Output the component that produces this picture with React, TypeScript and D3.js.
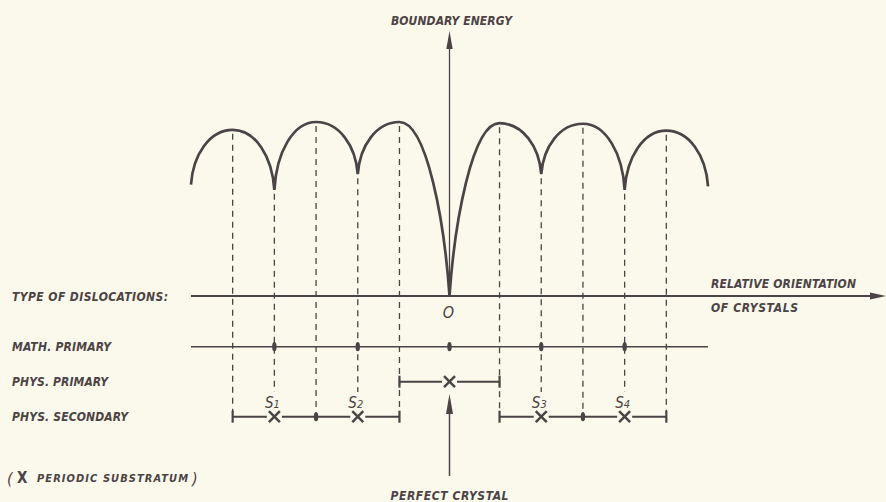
import React from "react";
import * as d3 from "d3";

// ---- data ----
// orientation positions of curve key points (arbitrary units, 0 = perfect crystal)
const curvePositions = [-6.2, -5.2, -4.2, -3.2, -2.2, -1.2, 0, 1.2, 2.2, 3.2, 4.2, 5.2, 6.2];
// boundary energy at those points (relative units)
const curveEnergy = [0.64, 0.955, 0.61, 1.0, 0.7, 1.0, 0, 0.993, 0.7, 0.99, 0.61, 0.95, 0.63];
const curveKind = ["end", "peak", "cusp", "peak", "cusp", "peak", "cusp", "peak", "cusp", "peak", "cusp", "peak", "end"];

const rowLabels = ["TYPE OF DISLOCATIONS:", "MATH. PRIMARY", "PHYS. PRIMARY", "PHYS. SECONDARY"];
const mathPrimaryDots = [-4.2, -2.2, 0, 2.2, 4.2];
const physPrimarySegments = [[-1.2, 1.2]];
const physPrimaryCrosses = [0];
const physSecondarySegments = [[-5.2, -1.2], [1.2, 5.2]];
const physSecondaryCrosses = [-4.2, -2.2, 2.2, 4.2];
const physSecondaryDots = [-3.2, 3.2];
const secondaryLabels = ["1", "2", "3", "4"];
const secondaryLabelPos = [-4.2, -2.2, 2.2, 4.2];

const W = 886;
const H = 502;
const INK = "#4b4345";
const BG = "#fbf9ec";
const FONT = "'DejaVu Sans Condensed', 'DejaVu Sans', sans-serif";

export default function App() {
  const x = d3.scaleLinear().domain([0, 1]).range([449.5, 491.2]);
  const y = d3.scaleLinear().domain([0, 1]).range([296, 122]);

  const rowY = [296, 346.7, 381.7, 416.7];
  const labelY = 402;

  // energy curve: bezier halves between cusp/end and peak
  const p = d3.path();
  for (let i = 0; i < curvePositions.length - 1; i++) {
    const a = i, b = i + 1;
    const peakIdx = curveKind[a] === "peak" ? a : b;
    const lowIdx = peakIdx === a ? b : a;
    const cx = x(curvePositions[lowIdx]), cy = y(curveEnergy[lowIdx]);
    const px = x(curvePositions[peakIdx]), py = y(curveEnergy[peakIdx]);
    const deep = curveEnergy[lowIdx] < 0.3;
    const ka = deep ? 0.1 : 0.05;
    const kb = deep ? 0.42 : 0.55;
    const kc = 0.55;
    const dx = px - cx, dy = cy - py;
    const c1 = [cx + ka * dx, cy - kb * dy];
    const c2 = [px - kc * dx, py];
    if (lowIdx === a) {
      if (i === 0) p.moveTo(cx, cy);
      p.bezierCurveTo(c1[0], c1[1], c2[0], c2[1], px, py);
    } else {
      if (i === 0) p.moveTo(px, py);
      p.bezierCurveTo(c2[0], c2[1], c1[0], c1[1], cx, cy);
    }
  }

  const xLeft = x(curvePositions[0]);
  const xRight = x(curvePositions[curvePositions.length - 1]);
  const x0 = x(0);

  const cross = (cx: number, cy: number, key: string, s = 5.5) => (
    <g key={key} stroke={INK} strokeWidth={2.5} strokeLinecap="butt">
      <line x1={cx - s} y1={cy - s} x2={cx + s} y2={cy + s} />
      <line x1={cx - s} y1={cy + s} x2={cx + s} y2={cy - s} />
    </g>
  );
  const dot = (cx: number, cy: number, key: string) => (
    <ellipse key={key} cx={cx} cy={cy} rx={2.2} ry={4.6} fill={INK} />
  );
  const endTick = (cx: number, cy: number, key: string) => (
    <line key={key} x1={cx} x2={cx} y1={cy - 6} y2={cy + 6} stroke={INK} strokeWidth={2.2} />
  );

  const txt = {
    fontFamily: FONT,
    fontStyle: "italic" as const,
    fontWeight: 700,
    fontSize: 12,
    fontStretch: "condensed",
    fill: INK,
  };

  // dashed drop lines
  const dashed = curvePositions
    .map((pos, i) => ({ pos, i }))
    .filter((d) => curveKind[d.i] !== "end" && d.pos !== 0)
    .map((d) => {
      const top = y(curveEnergy[d.i]) + 4;
      const bottom = curveKind[d.i] === "peak" ? rowY[3] - 5 : labelY - 10;
      return (
        <line
          key={"d" + d.i}
          x1={x(d.pos)}
          x2={x(d.pos)}
          y1={top}
          y2={bottom}
          stroke={INK}
          strokeWidth={1.3}
          strokeDasharray="6,5"
        />
      );
    });

  const rowWidths = [156, 99, 96, 116];

  return (
    <svg width={W} height={H} style={{ position: "absolute", left: 0, top: 0 }}>
      <rect width={W} height={H} fill={BG} />
      {dashed}
      {/* energy curve */}
      <path d={p.toString()} fill="none" stroke={INK} strokeWidth={2.7} strokeLinejoin="miter" />

      {/* vertical energy axis */}
      <line x1={x0} x2={x0} y1={rowY[0]} y2={44} stroke={INK} strokeWidth={1.3} />
      <polygon points={`${x0},31 ${x0 - 3.2},49 ${x0 + 3.2},49`} fill={INK} />
      <text {...txt} x={x0 + 2} y={24.5} textAnchor="middle" textLength={121} lengthAdjust="spacing">
        BOUNDARY ENERGY
      </text>

      {/* horizontal orientation axis */}
      <line x1={xLeft} x2={874} y1={rowY[0]} y2={rowY[0]} stroke={INK} strokeWidth={2} />
      <polygon points={`886,${rowY[0]} 870,${rowY[0] - 3.5} 870,${rowY[0] + 3.5}`} fill={INK} />
      <text {...txt} x={711} y={287.5} textLength={145} lengthAdjust="spacing">
        RELATIVE ORIENTATION
      </text>
      <text {...txt} x={711} y={312} textLength={87} lengthAdjust="spacing">
        OF CRYSTALS
      </text>
      <text {...txt} fontSize={16} fontWeight={400} x={x0 - 1} y={318} textAnchor="middle">
        O
      </text>

      {/* row labels */}
      {rowLabels.map((l, i) => (
        <text key={l} {...txt} x={12} y={rowY[i] + 4.5} textLength={rowWidths[i]} lengthAdjust="spacing">
          {l}
        </text>
      ))}

      {/* math primary */}
      <line x1={xLeft} x2={xRight} y1={rowY[1]} y2={rowY[1]} stroke={INK} strokeWidth={1.5} />
      {mathPrimaryDots.map((d, i) => dot(x(d), rowY[1], "m" + i))}

      {/* phys primary */}
      {physPrimarySegments.map((s, i) => (
        <g key={"pp" + i}>
          <line x1={x(s[0])} x2={x(s[1])} y1={rowY[2]} y2={rowY[2]} stroke={INK} strokeWidth={2} />
          {endTick(x(s[0]), rowY[2], "pt0" + i)}
          {endTick(x(s[1]), rowY[2], "pt1" + i)}
        </g>
      ))}
      {physPrimaryCrosses.map((c, i) => (
        <g key={"ppc" + i}>
          <rect x={x(c) - 7.5} y={rowY[2] - 6.5} width={15} height={13} fill={BG} />
          {cross(x(c), rowY[2], "ppx" + i)}
        </g>
      ))}

      {/* phys secondary */}
      {physSecondarySegments.map((s, i) => (
        <g key={"ps" + i}>
          <line x1={x(s[0])} x2={x(s[1])} y1={rowY[3]} y2={rowY[3]} stroke={INK} strokeWidth={2} />
          {endTick(x(s[0]), rowY[3], "st0" + i)}
          {endTick(x(s[1]), rowY[3], "st1" + i)}
        </g>
      ))}
      {physSecondaryDots.map((d, i) => dot(x(d), rowY[3], "sd" + i))}
      {physSecondaryCrosses.map((c, i) => (
        <g key={"psc" + i}>
          <rect x={x(c) - 7.5} y={rowY[3] - 6.5} width={15} height={13} fill={BG} />
          {cross(x(c), rowY[3], "psx" + i)}
        </g>
      ))}
      {secondaryLabelPos.map((pos, i) => (
        <text key={"sl" + i} {...txt} fontWeight={400} fontSize={15} x={x(pos) - 2} y={labelY + 5.5} textAnchor="middle">
          S<tspan fontSize={11}>{secondaryLabels[i]}</tspan>
        </text>
      ))}

      {/* perfect crystal arrow */}
      <line x1={x0} x2={x0} y1={476} y2={408} stroke={INK} strokeWidth={1.5} />
      <polygon points={`${x0},394 ${x0 - 3.5},414 ${x0 + 3.5},414`} fill={INK} />
      <text {...txt} x={x0} y={500} textAnchor="middle" textLength={118} lengthAdjust="spacing">
        PERFECT CRYSTAL
      </text>

      {/* footnote */}
      <text {...txt} x={7} y={484} fontWeight={400} fontSize={16}>(</text>
      <text {...txt} x={17} y={483} fontSize={15} fontStyle="normal" fontStretch="normal">X</text>
      <text {...txt} x={37} y={482} fontSize={11} textLength={151} lengthAdjust="spacing">
        PERIODIC SUBSTRATUM
      </text>
      <text {...txt} x={192} y={484} fontWeight={400} fontSize={16}>)</text>
    </svg>
  );
}
